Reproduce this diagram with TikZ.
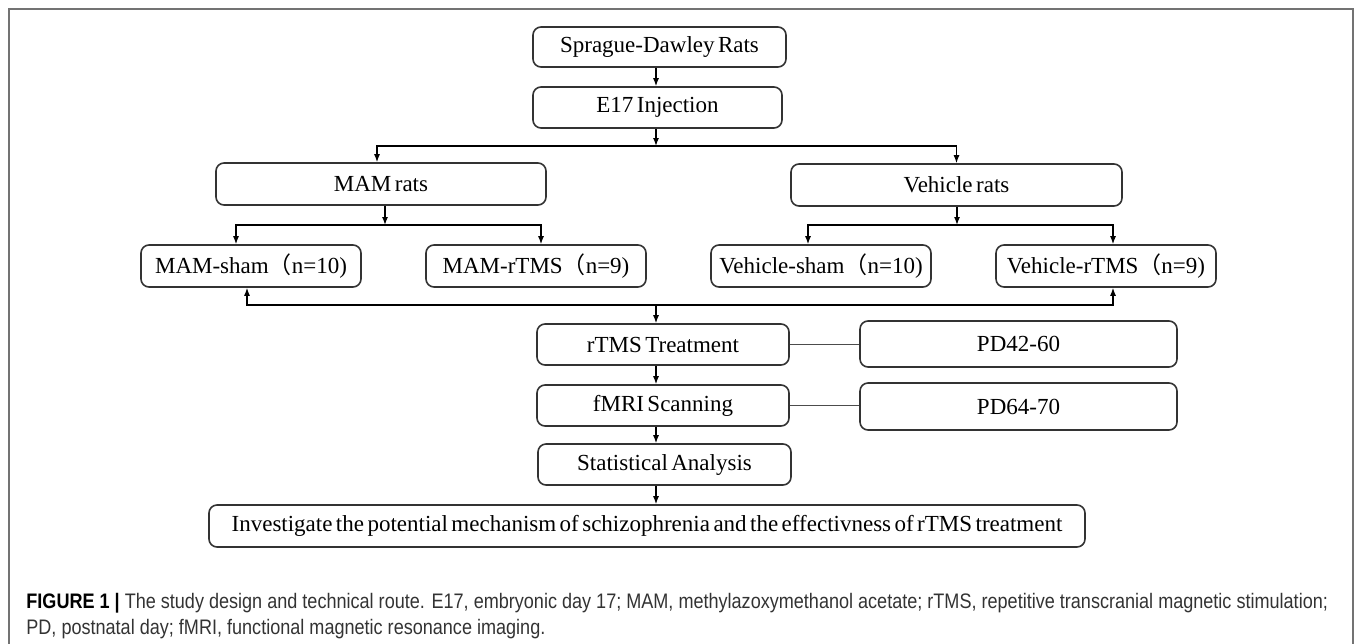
\documentclass[tikz,border=0pt]{standalone}
\usepackage{fontspec}
\setmainfont{Liberation Serif}
\newfontfamily\cjk{Noto Sans CJK SC}
\newfontfamily\capfont[FakeStretch=0.86]{Liberation Sans}
\usetikzlibrary{arrows.meta}
\newcommand\boxfont{\fontsize{11.5}{13}\selectfont\spaceskip=0.15em\relax}

\begin{document}
\begin{tikzpicture}[x=0.5pt,y=-0.5pt]
    \tikzset{box/.style={draw=black!80, line width=0.8pt, rounded corners=4pt, inner sep=0pt,
                         minimum height=21pt, font=\boxfont},
             link/.style={line width=0.65pt, -{Latex[length=4pt,width=3pt]}},
             both/.style={line width=0.65pt, {Latex[length=4pt,width=3pt]}-{Latex[length=4pt,width=3pt]}},
             captext/.style={anchor=base west, inner sep=0pt, text=black!80, font=\capfont\fontsize{10.5}{13}\selectfont}}
    \useasboundingbox (0,0) rectangle (1358,643);
    \draw [black!55, line width=1pt] (9,660) -- (9,9) -- (1353,9) -- (1353,660);

    \node [box, minimum width=126.5pt, minimum height=20pt] (sd)  at (659.5,47)  {Sprague-Dawley Rats};
    \node [box, minimum width=124.5pt, minimum height=20.5pt] (e17) at (657.5,107.5) {E17 Injection};
    \node [box, minimum width=165pt]   (mam)   at (381,184)   {MAM rats};
    \node [box, minimum width=165.5pt] (veh)   at (956.5,185) {Vehicle rats};
    \node [box, minimum width=110pt]   (msham) at (251,266)   {MAM-sham{\cjk （}n=10)};
    \node [box, minimum width=110pt]   (mrtms) at (536,266)   {MAM-rTMS{\cjk （}n=9)};
    \node [box, minimum width=110pt]   (vsham) at (821,266)   {Vehicle-sham{\cjk （}n=10)};
    \node [box, minimum width=110pt]   (vrtms) at (1106,266)  {Vehicle-rTMS{\cjk （}n=9)};
    \node [box, minimum width=126pt, minimum height=20.5pt] (rtms) at (663,344.5) {rTMS Treatment};
    \node [box, minimum width=158.5pt, minimum height=23pt] (pd1)  at (1018.5,344) {PD42-60};
    \node [box, minimum width=126pt, minimum height=20.5pt] (fmri) at (663,405.5) {fMRI Scanning};
    \node [box, minimum width=158.5pt, minimum height=23.5pt] (pd2) at (1018.5,406.5) {PD64-70};
    \node [box, minimum width=126.5pt, minimum height=20.5pt] (stat) at (664.5,464.5) {Statistical Analysis};
    \node [box, minimum width=438pt]   (inv)   at (647,526)
          {Investigate the potential mechanism of schizophrenia and the effectivness of rTMS treatment};

    \coordinate (f1) at (656,146);
    \coordinate (f2) at (385,225);
    \coordinate (f3) at (957,225);
    \coordinate (f4) at (656,305);
    \draw [link] (sd.south -| f1) -- (e17.north -| f1);
    \draw [link] (e17.south -| f1) -- (f1);
    \draw [both] ([xshift=-2pt]mam.north) |- (f1) -| (veh.north);
    \draw [link] (mam.south -| f2) -- (f2);
    \draw [both] ([xshift=-7.5pt]msham.north) |- (f2) -| ([xshift=2.5pt]mrtms.north);
    \draw [link] (veh.south -| f3) -- (f3);
    \draw [both] ([xshift=-6.5pt]vsham.north) |- (f3) -| ([xshift=3.5pt]vrtms.north);
    \draw [both] ([xshift=-2pt]msham.south) |- (f4) -| ([xshift=3.5pt]vrtms.south);
    \draw [link] (f4) -- (rtms.north -| f4);
    \draw [link] (rtms.south -| f4) -- (fmri.north -| f4);
    \draw [link] (fmri.south -| f4) -- (stat.north -| f4);
    \draw [link] (stat.south -| f4) -- (inv.north -| f4);
    \draw [black!70, line width=0.5pt] (rtms.east) -- (rtms.east -| pd1.west);
    \draw [black!70, line width=0.5pt] (fmri.east) -- (fmri.east -| pd2.west);

    \node [captext] (cap1) at (26,608) {\textcolor{black}{\textbf{FIGURE 1 |}} The study design and technical route. E17, embryonic day 17; MAM, methylazoxymethanol acetate; rTMS, repetitive transcranial magnetic stimulation;};
    \node [captext] (cap2) at (26,634) {PD, postnatal day; fMRI, functional magnetic resonance imaging.};
\end{tikzpicture}
\end{document}
